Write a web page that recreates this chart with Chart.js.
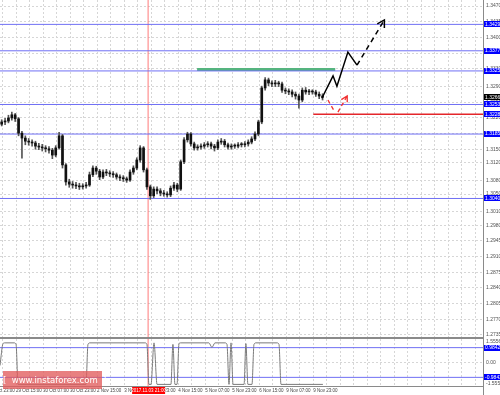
<!DOCTYPE html>
<html>
<head>
<meta charset="utf-8">
<script src="https://cdn.jsdelivr.net/npm/chart.js@4.4.1/dist/chart.umd.min.js"></script>
<style>
  html, body { margin: 0; padding: 0; background: #fff; }
  #wrap { position: relative; width: 500px; height: 395px; overflow: hidden; background: #fff; }
  #main { position: absolute; left: 0; top: 0; }
  #ind  { position: absolute; left: 0; top: 339px; }
  #logo {
    position: absolute; left: 3px; top: 371px; width: 99px; height: 18px;
    background: rgba(226, 92, 92, 0.78); color: #fff;
    font: 8.5px "DejaVu Sans", sans-serif; line-height: 18px;
    text-align: center; white-space: pre;
  }
</style>
</head>
<body>
<div id="wrap">
  <canvas id="main" width="500" height="339"></canvas>
  <canvas id="ind" width="500" height="56"></canvas>
  <div id="logo">[  www.instaforex.com  ]</div>
</div>
<script>
"use strict";

// ============================================================
// 데이터 (2시간 캔들, 차트 이미지에서 읽은 값)
// ============================================================
const candleOpen = [
  1.3206,1.3211,1.3213,1.3220,1.3227,1.3218,1.3186,1.3175,1.3168,1.3166,
  1.3164,1.3157,1.3155,1.3153,1.3151,1.3148,1.3137,1.3153,1.3180,1.3115,
  1.3077,1.3072,1.3070,1.3068,1.3066,1.3068,1.3070,1.3093,1.3108,1.3101,
  1.3088,1.3099,1.3097,1.3095,1.3093,1.3088,1.3086,1.3084,1.3081,1.3099,
  1.3108,1.3126,1.3153,1.3104,1.3066,1.3046,1.3061,1.3057,1.3052,1.3050,
  1.3048,1.3063,1.3070,1.3061,1.3122,1.3171,1.3184,1.3162,1.3153,1.3155,
  1.3157,1.3160,1.3162,1.3157,1.3153,1.3166,1.3168,1.3160,1.3155,1.3157,
  1.3157,1.3160,1.3160,1.3162,1.3166,1.3173,1.3184,1.3211,1.3287,1.3305,
  1.3298,1.3296,1.3298,1.3296,1.3282,1.3280,1.3278,1.3273,1.3269,1.3260,
  1.3282,1.3278,1.3278,1.3278,1.3273,1.3269
];
const candleClose = [
  1.3211,1.3213,1.3220,1.3227,1.3218,1.3186,1.3175,1.3168,1.3166,1.3164,
  1.3157,1.3155,1.3153,1.3151,1.3148,1.3137,1.3153,1.3180,1.3115,1.3077,
  1.3072,1.3070,1.3068,1.3066,1.3068,1.3070,1.3093,1.3108,1.3101,1.3088,
  1.3099,1.3097,1.3095,1.3093,1.3088,1.3086,1.3084,1.3081,1.3099,1.3108,
  1.3126,1.3153,1.3104,1.3066,1.3046,1.3061,1.3057,1.3052,1.3050,1.3048,
  1.3063,1.3070,1.3061,1.3122,1.3171,1.3184,1.3162,1.3153,1.3155,1.3157,
  1.3160,1.3162,1.3157,1.3153,1.3166,1.3168,1.3160,1.3155,1.3157,1.3157,
  1.3160,1.3160,1.3162,1.3166,1.3173,1.3184,1.3211,1.3287,1.3305,1.3298,
  1.3296,1.3298,1.3296,1.3282,1.3280,1.3278,1.3273,1.3269,1.3260,1.3282,
  1.3278,1.3278,1.3278,1.3273,1.3269,1.3266
];
const candleHigh = [
  1.3216,1.3219,1.3226,1.3233,1.3230,1.3221,1.3190,1.3180,1.3174,1.3171,
  1.3168,1.3163,1.3161,1.3158,1.3156,1.3152,1.3158,1.3188,1.3183,1.3118,
  1.3083,1.3078,1.3076,1.3074,1.3073,1.3076,1.3099,1.3113,1.3112,1.3105,
  1.3104,1.3105,1.3102,1.3100,1.3097,1.3093,1.3091,1.3088,1.3104,1.3113,
  1.3131,1.3158,1.3156,1.3108,1.3070,1.3066,1.3066,1.3062,1.3058,1.3055,
  1.3068,1.3076,1.3074,1.3126,1.3176,1.3188,1.3187,1.3166,1.3160,1.3162,
  1.3165,1.3167,1.3166,1.3161,1.3171,1.3174,1.3172,1.3164,1.3162,1.3162,
  1.3165,1.3165,1.3167,1.3171,1.3178,1.3189,1.3215,1.3291,1.3310,1.3309,
  1.3303,1.3304,1.3302,1.3300,1.3287,1.3285,1.3283,1.3278,1.3273,1.3287,
  1.3288,1.3284,1.3283,1.3282,1.3278,1.3274
];
const candleLow = [
  1.3202,1.3205,1.3209,1.3215,1.3212,1.3180,1.3130,1.3160,1.3159,1.3157,
  1.3150,1.3149,1.3146,1.3144,1.3141,1.3129,1.3133,1.3150,1.3108,1.3070,
  1.3065,1.3063,1.3062,1.3060,1.3061,1.3063,1.3067,1.3089,1.3094,1.3082,
  1.3084,1.3091,1.3089,1.3087,1.3083,1.3080,1.3078,1.3076,1.3078,1.3094,
  1.3104,1.3121,1.3099,1.3060,1.3038,1.3042,1.3051,1.3046,1.3045,1.3043,
  1.3044,1.3058,1.3055,1.3058,1.3118,1.3166,1.3157,1.3148,1.3148,1.3150,
  1.3152,1.3155,1.3151,1.3146,1.3149,1.3161,1.3155,1.3150,1.3150,1.3152,
  1.3153,1.3155,1.3155,1.3157,1.3162,1.3169,1.3180,1.3207,1.3282,1.3292,
  1.3290,1.3290,1.3290,1.3277,1.3274,1.3272,1.3267,1.3262,1.3242,1.3256,
  1.3273,1.3272,1.3273,1.3268,1.3263,1.3260
];

// 가격축 눈금
const yTickValues = [
  1.3470, 1.3435, 1.3400, 1.3365, 1.3330, 1.3290, 1.3255, 1.3220, 1.3185, 1.3150,
  1.3120, 1.3080, 1.3050, 1.3010, 1.2980, 1.2945, 1.2910, 1.2875, 1.2840, 1.2805,
  1.2770, 1.2735
];

// 시간축 라벨 (시간 단위 위치)
const xTickHours  = [-6.5, 9.5, 25.5, 41.5, 57.5, 73.5, 89.5, 105.5, 121.5, 137.5, 153.5, 169.5, 185.5];
const xTickLabels = [
  "28 Oct 23:00", "29 Oct 15:00", "30 Oct 07:00", "30 Oct 23:00", "2 Nov 15:00",
  "3 Nov 07:00", "3 Nov 23:00", "4 Nov 15:00", "5 Nov 07:00", "5 Nov 23:00",
  "6 Nov 15:00", "9 Nov 07:00", "9 Nov 23:00"
];

// 수평 레벨
const blueLevels  = [1.3429, 1.3370, 1.3325, 1.3250, 1.3184, 1.3040];
const blueLabels  = ["1.3429", "1.3377", "1.3325", "1.3253", "1.3185", "1.3040"];
const redLevel    = 1.3228;
const redLabel    = "1.3228";
const redLevelFrom = 185.5;
const greenLevel  = 1.3328;
const greenFrom   = 116.7;
const greenTo     = 198.5;
const markerHour  = 87.7;
const markerLabel = "2017.11.03 21:00";

// 예측 화살표 (검정)
const blackHours   = [190.6, 197.2, 199.5, 206.0, 211.4];
const blackPrices  = [1.3264, 1.3314, 1.3291, 1.3367, 1.3338];
const blackDashH   = [211.4, 227.6];
const blackDashP   = [1.3338, 1.3439];
const blackHeadH   = [223.4, 227.6, 227.6];
const blackHeadP   = [1.3430, 1.3439, 1.3421];
// 예측 화살표 (빨강)
const redDash1H = [194.2, 198.3];
const redDash1P = [1.3260, 1.3233];
const redDash2H = [200.1, 205.6];
const redDash2P = [1.3233, 1.3269];
const redHeadH  = [202.1, 205.6, 205.6];
const redHeadP  = [1.3261, 1.3269, 1.3255];

// 하단 지표
const indHours = [
  0, 1.8, 3.0, 8.3, 9.5, 10.7, 50.9, 52.1, 53.3, 85.8, 87.0, 88.2, 89.4, 91.2, 93.0,
  101.2, 102.4, 103.6, 104.8, 106.0, 107.2, 123.7, 125.5, 127.3, 133.2, 134.4, 135.6,
  136.8, 138.0, 144.5, 145.6, 146.8, 149.2, 150.4, 151.6, 164.0, 165.2, 166.4, 191.2
];
const indValues = [
  -0.2, 1.25, 1.3, 1.3, 1.2, -1.45, -1.45, 1.2, 1.3, 1.3, 1.2, -1.45, -1.45, 1.3, -1.45,
  -1.45, 1.2, -1.45, -1.45, 1.25, 1.3, 1.3, 1.0, 1.3, 1.3, 1.2, -1.45,
  1.3, -1.45, -1.45, 1.25, -1.45, -1.45, 1.2, 1.3, 1.3, 1.2, -1.45, -1.45
];
const indLevel = 0.9842;
const indMax   = 1.5556;

// ── 축 범위 ──────────────────────────────────────────
const X_MIN = 0, X_MAX = 286;
const Y_MIN = 1.2726, Y_MAX = 1.34835;

const candleHours = candleClose.map((_, i) => i * 2 + 1);
const gridHours = [];
for (let h = -6.5; h <= X_MAX; h += 8) gridHours.push(h);

const LEVEL_BLUE = "rgb(112,112,244)";

function pts(xs, ys) {
  return xs.map((x, i) => ({ x, y: ys[i] }));
}

function lineDs(data, color, width, dash, order) {
  return {
    type: "line", data,
    borderColor: color, backgroundColor: color,
    borderWidth: width, borderDash: dash || [],
    pointRadius: 0, fill: false, tension: 0, order: order || 5,
  };
}

function tag(ctx, x, y, text, bg) {
  ctx.fillStyle = bg;
  ctx.fillRect(x, Math.round(y) - 3, 17, 6);
  ctx.fillStyle = "#fff";
  ctx.fillText(text, x + 1, y);
}

// ── 메인 차트 장식 (축선, 가격 태그) ───────────────────
const mainDecor = {
  id: "mainDecor",
  afterDraw(chart) {
    const { ctx, chartArea: a, scales: { y } } = chart;
    ctx.save();
    ctx.fillStyle = "#8a8a8a";
    ctx.fillRect(a.right, 0, 1, chart.height);
    ctx.fillRect(0, chart.height - 2, a.right + 1, 2);
    ctx.font = "5px 'Liberation Sans', Arial";
    ctx.textBaseline = "middle";
    blueLevels.forEach((v, i) => {
      tag(ctx, a.right + 1, y.getPixelForValue(v), blueLabels[i], "#0000ff");
    });
    tag(ctx, a.right + 1, y.getPixelForValue(redLevel), redLabel, "#0000ff");
    const last = candleClose[candleClose.length - 1];
    tag(ctx, a.right + 1, y.getPixelForValue(last), last.toFixed(4), "#000");
    ctx.restore();
  },
};

// ── 지표 패널 장식 ───────────────────────────────────
const indDecor = {
  id: "indDecor",
  afterDraw(chart) {
    const { ctx, chartArea: a, scales: { x, y } } = chart;
    ctx.save();
    ctx.fillStyle = "#8a8a8a";
    ctx.fillRect(a.right, 0, 1, chart.height);
    ctx.fillRect(0, a.bottom, a.right + 1, 1);
    ctx.font = "5px 'Liberation Sans', Arial";
    ctx.textBaseline = "middle";
    ctx.fillStyle = "#505050";
    ctx.fillText(indMax.toFixed(4), a.right + 3, 3);
    ctx.fillText("0.00", a.right + 3, y.getPixelForValue(0));
    ctx.fillText((-indMax).toFixed(4), a.right + 3, a.bottom - 2);
    tag(ctx, a.right + 1, y.getPixelForValue(indLevel), indLevel.toFixed(4), "#0000ff");
    tag(ctx, a.right + 1, y.getPixelForValue(-indLevel), (-indLevel).toFixed(4), "#0000ff");
    // 시간 마커 박스
    const mx = x.getPixelForValue(markerHour);
    ctx.fillStyle = "#ff0000";
    ctx.fillRect(mx - 16, a.bottom + 1, 33, 7);
    ctx.fillStyle = "#fff";
    ctx.font = "4.5px 'Liberation Sans', Arial";
    ctx.textAlign = "center";
    ctx.fillText(markerLabel, mx + 0.5, a.bottom + 4.5);
    ctx.restore();
  },
};

const gridOpts = { color: "#d6d6d6", drawTicks: false, offset: false };

// ── 메인 차트 ─────────────────────────────────────────
new Chart(document.getElementById("main"), {
  type: "bar",
  data: {
    datasets: [
      ...blueLevels.map(v =>
        lineDs([{ x: X_MIN, y: v }, { x: X_MAX, y: v }], LEVEL_BLUE, 1, [], 6)),
      lineDs([{ x: redLevelFrom, y: redLevel }, { x: X_MAX, y: redLevel }], "#e4262b", 1.5, [], 6),
      lineDs([{ x: greenFrom, y: greenLevel }, { x: greenTo, y: greenLevel }], "#55b47f", 3, [], 6),
      lineDs([{ x: markerHour, y: Y_MIN }, { x: markerHour, y: Y_MAX }], "#ff7a7a", 1, [], 7),
      {
        type: "bar",
        data: candleHours.map((h, i) => ({ x: h, y: [candleLow[i], candleHigh[i]] })),
        backgroundColor: "#555",
        barThickness: 1, grouped: false, order: 3,
      },
      {
        type: "bar",
        data: candleHours.map((h, i) => ({ x: h, y: [candleOpen[i], candleClose[i]] })),
        backgroundColor: "#111",
        barThickness: 2, minBarLength: 1, grouped: false, order: 2,
      },
      lineDs(pts(blackHours, blackPrices), "#000", 1.5, [], 1),
      lineDs(pts(blackDashH, blackDashP), "#000", 1.5, [5, 4], 1),
      lineDs(pts(blackHeadH, blackHeadP), "#000", 1.5, [], 1),
      lineDs(pts(redDash1H, redDash1P), "#f03030", 1.3, [4, 3], 1),
      lineDs(pts(redDash2H, redDash2P), "#f03030", 1.3, [4, 3], 1),
      lineDs(pts(redHeadH, redHeadP), "#f03030", 1.3, [], 1),
    ],
  },
  options: {
    responsive: false,
    animation: false,
    events: [],
    layout: { padding: 0 },
    plugins: { legend: { display: false }, tooltip: { enabled: false } },
    scales: {
      x: {
        type: "linear", min: X_MIN, max: X_MAX, offset: false,
        afterBuildTicks(s) { s.ticks = gridHours.map(v => ({ value: v })); },
        afterFit(s) { s.height = 0; s.paddingLeft = 0; s.paddingRight = 0; },
        ticks: { display: false },
        grid: gridOpts,
        border: { display: false, dash: [2, 2] },
      },
      y: {
        position: "right", min: Y_MIN, max: Y_MAX,
        afterBuildTicks(s) { s.ticks = yTickValues.map(v => ({ value: v })); },
        afterFit(s) { s.width = 17; s.paddingTop = 0; s.paddingBottom = 0; },
        ticks: {
          autoSkip: false, padding: 3, color: "#505050",
          font: { size: 5, family: "'Liberation Sans', Arial" },
          callback: v => v.toFixed(4),
        },
        grid: gridOpts,
        border: { display: false, dash: [2, 2] },
      },
    },
  },
  plugins: [mainDecor],
});

// ── 하단 지표 차트 ────────────────────────────────────
new Chart(document.getElementById("ind"), {
  type: "line",
  data: {
    datasets: [
      Object.assign(lineDs(pts(indHours, indValues), "#7a7a7a", 1, [], 1),
        { cubicInterpolationMode: "monotone" }),
      lineDs([{ x: X_MIN, y: indLevel }, { x: X_MAX, y: indLevel }], LEVEL_BLUE, 1, [], 5),
      lineDs([{ x: X_MIN, y: -indLevel }, { x: X_MAX, y: -indLevel }], LEVEL_BLUE, 1, [], 5),
      lineDs([{ x: markerHour, y: -indMax }, { x: markerHour, y: indMax }], "#ff7a7a", 1, [], 6),
    ],
  },
  options: {
    responsive: false,
    animation: false,
    events: [],
    layout: { padding: 0 },
    plugins: { legend: { display: false }, tooltip: { enabled: false } },
    scales: {
      x: {
        type: "linear", min: X_MIN, max: X_MAX, offset: false,
        afterBuildTicks(s) { s.ticks = gridHours.map(v => ({ value: v })); },
        afterFit(s) { s.height = 9; s.paddingLeft = 0; s.paddingRight = 0; },
        ticks: {
          autoSkip: false, maxRotation: 0, minRotation: 0, align: "start", padding: 2,
          color: "#444", font: { size: 4.5, family: "'Liberation Sans', Arial" },
          callback: v => {
            const k = xTickHours.indexOf(v);
            return k < 0 ? "" : xTickLabels[k];
          },
        },
        grid: gridOpts,
        border: { display: false, dash: [2, 2] },
      },
      y: {
        position: "right", min: -indMax, max: indMax,
        afterBuildTicks(s) { s.ticks = [{ value: 0 }]; },
        afterFit(s) { s.width = 17; s.paddingTop = 0; s.paddingBottom = 0; },
        ticks: { display: false },
        grid: gridOpts,
        border: { display: false, dash: [2, 2] },
      },
    },
  },
  plugins: [indDecor],
});
</script>
</body>
</html>
